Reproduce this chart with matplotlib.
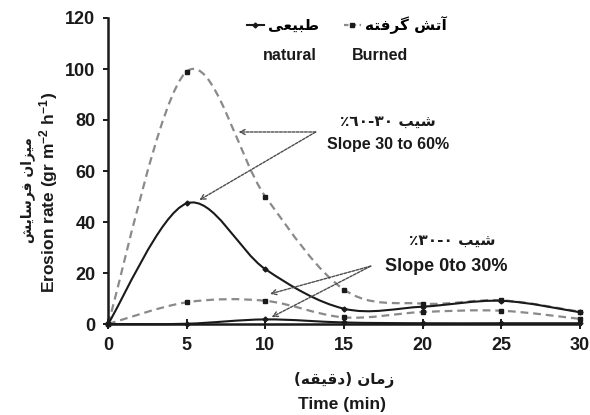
#!/usr/bin/env python3
"""Erosion rate vs. time, burned vs. natural plots on two slope classes."""
import matplotlib

matplotlib.use("Agg")
import matplotlib.pyplot as plt
from matplotlib.lines import Line2D
from matplotlib.path import Path
from matplotlib.patches import PathPatch

# data
time_min = [0, 5, 10, 15, 20, 25, 30]
burned_steep = [0, 99.0, 50.0, 13.5, 8.0, 9.3, 4.8]
natural_steep = [0, 47.3, 21.5, 6.0, 6.8, 9.1, 4.6]
burned_gentle = [0, 8.5, 9.1, 2.6, 4.7, 5.2, 2.0]
natural_gentle = [0, 0.1, 1.8, 0.6, 0.3, 0.3, 0.3]

x_ticks = [0, 5, 10, 15, 20, 25, 30]
y_ticks = [0, 20, 40, 60, 80, 100, 120]

W, H = 590, 415
COL = {
    "ink": "#1a1a1a",
    "burned": "#8a8a8a",
    "arrow": "#4d4d4d",
}

# minimal Persian shaping (matplotlib has no bidi / joining support)
FORMS = {
    "ا": ("\uFE8D", "\uFE8E", None, None),
    "آ": ("\uFE81", "\uFE82", None, None),
    "ب": ("\uFE8F", "\uFE90", "\uFE91", "\uFE92"),
    "ت": ("\uFE95", "\uFE96", "\uFE97", "\uFE98"),
    "د": ("\uFEA9", "\uFEAA", None, None),
    "ر": ("\uFEAD", "\uFEAE", None, None),
    "ز": ("\uFEAF", "\uFEB0", None, None),
    "س": ("\uFEB1", "\uFEB2", "\uFEB3", "\uFEB4"),
    "ش": ("\uFEB5", "\uFEB6", "\uFEB7", "\uFEB8"),
    "ط": ("\uFEC1", "\uFEC2", "\uFEC3", "\uFEC4"),
    "ع": ("\uFEC9", "\uFECA", "\uFECB", "\uFECC"),
    "ف": ("\uFED1", "\uFED2", "\uFED3", "\uFED4"),
    "ق": ("\uFED5", "\uFED6", "\uFED7", "\uFED8"),
    "م": ("\uFEE1", "\uFEE2", "\uFEE3", "\uFEE4"),
    "ن": ("\uFEE5", "\uFEE6", "\uFEE7", "\uFEE8"),
    "ه": ("\uFEE9", "\uFEEA", "\uFEEB", "\uFEEC"),
    "ی": ("\uFEEF", "\uFEF0", "\uFEF3", "\uFEF4"),
    "گ": ("\uFB92", "\uFB93", "\uFB94", "\uFB95"),
}
MIRROR = {"(": ")", ")": "("}


def fa(s):
    out = []
    for i, c in enumerate(s):
        if c not in FORMS:
            out.append(c)
            continue
        iso, fin, ini, med = FORMS[c]
        prev = s[i - 1] if i > 0 else ""
        nxt = s[i + 1] if i + 1 < len(s) else ""
        jp = prev in FORMS and FORMS[prev][2] is not None
        jn = nxt in FORMS and ini is not None
        out.append(med if jp and jn else fin if jp else ini if jn else iso)
    return "".join(MIRROR.get(c, c) for c in reversed(out))


def fx(px):
    return px / W


def fy(py):
    return 1 - py / H


def smooth(ax, xs, ys, **kw):
    # Excel-style smoothed line: cubic Bezier through every point
    pts = list(zip(xs, ys))
    verts = [pts[0]]
    codes = [Path.MOVETO]
    n = len(pts)
    for i in range(n - 1):
        p0 = pts[i - 1] if i > 0 else pts[i]
        p1, p2 = pts[i], pts[i + 1]
        p3 = pts[i + 2] if i + 2 < n else pts[i + 1]
        c1 = (p1[0] + (p2[0] - p0[0]) / 6, p1[1] + (p2[1] - p0[1]) / 6)
        c2 = (p2[0] - (p3[0] - p1[0]) / 6, p2[1] - (p3[1] - p1[1]) / 6)
        verts += [c1, c2, p2]
        codes += [Path.CURVE4] * 3
    ax.add_patch(PathPatch(Path(verts, codes), fill=False, clip_on=False, **kw))


plt.rcParams.update(
    {
        "font.family": ["Liberation Sans", "DejaVu Sans"],
        "font.weight": "bold",
        "mathtext.fontset": "custom",
        "mathtext.rm": "Liberation Sans:bold",
        "mathtext.bf": "Liberation Sans:bold",
        "mathtext.default": "rm",
    }
)
FA = ["DejaVu Sans"]

fig = plt.figure(figsize=(W / 100, H / 100), dpi=100)
ax = fig.add_axes([fx(108), fy(324), fx(580) - fx(108), fy(18) - fy(324)])
ax.set_xlim(0, 30)
ax.set_ylim(0, 120)

burned_kw = dict(edgecolor=COL["burned"], lw=1.6, linestyle=(0, (3.5, 2.2)))
natural_kw = dict(edgecolor=COL["ink"], lw=1.5)
smooth(ax, time_min, burned_steep, **burned_kw)
smooth(ax, time_min, burned_gentle, **burned_kw)
smooth(ax, time_min, natural_steep, **natural_kw)
smooth(ax, time_min, natural_gentle, **natural_kw)
for ys in (burned_steep, burned_gentle):
    ax.plot(time_min, ys, ls="none", marker="s", ms=3, color=COL["ink"], clip_on=False, zorder=3)
for ys in (natural_steep, natural_gentle):
    ax.plot(time_min, ys, ls="none", marker="D", ms=2.5, color=COL["ink"], clip_on=False, zorder=3)

for s in ("top", "right"):
    ax.spines[s].set_visible(False)
for s in ("left", "bottom"):
    ax.spines[s].set_color(COL["ink"])
    ax.spines[s].set_linewidth(1.8)
ax.set_xticks(x_ticks)
ax.set_yticks(y_ticks)
ax.tick_params(axis="x", direction="inout", length=7, width=1.4, pad=5.5, labelsize=13, colors=COL["ink"])
ax.tick_params(axis="y", direction="out", length=3.5, width=1.4, pad=5.5, labelsize=13, colors=COL["ink"])

# legend: Persian labels with line handles, English names below
handles = [
    Line2D([], [], color=COL["ink"], lw=1.5, marker="D", ms=2.5),
    Line2D([], [], color=COL["burned"], lw=1.6, ls=(0, (2, 1.5)), marker="s", ms=3,
           mfc=COL["ink"], mec=COL["ink"]),
]
fig.legend(
    handles,
    [fa("طبیعی"), fa("آتش گرفته")],
    loc="center",
    bbox_to_anchor=(fx(347), fy(25)),
    ncol=2,
    frameon=False,
    handlelength=1.1,
    handletextpad=0.3,
    columnspacing=1.6,
    prop={"family": FA, "weight": "bold", "size": 11},
)
fig.text(fx(290), fy(55), "natural", ha="center", va="center", fontsize=11.5, color=COL["ink"])
fig.text(fx(380), fy(55), "Burned", ha="center", va="center", fontsize=11.5, color=COL["ink"])

# slope annotations
fig.text(fx(388), fy(121), "٪٦٠-٣٠ " + fa("شیب"), ha="center", va="center",
         family=FA, fontsize=11, color=COL["ink"])
fig.text(fx(388), fy(145), "Slope 30 to 60%", ha="center", va="center", fontsize=11.5, color=COL["ink"])
fig.text(fx(452), fy(240), "٪٣٠-٠ " + fa("شیب"), ha="center", va="center",
         family=FA, fontsize=11, color=COL["ink"])
fig.text(fx(446), fy(266), "Slope 0to 30%", ha="center", va="center", fontsize=13, color=COL["ink"])

arrow_kw = dict(arrowstyle="->", color=COL["arrow"], lw=1.0, linestyle=(0, (2, 1)),
                mutation_scale=9, shrinkA=0, shrinkB=0)
for tip, start in [
    ((8.3, 75.3), (13.2, 75.3)),
    ((5.8, 48.6), (13.2, 75.3)),
    ((10.3, 11.8), (16.7, 22.7)),
    ((10.4, 2.7), (16.7, 22.7)),
]:
    ax.annotate("", xy=tip, xytext=start, arrowprops=arrow_kw)

# axis titles (Persian above / beside English)
fig.text(fx(344), fy(380), fa("زمان (دقیقه)"), ha="center", va="center",
         family=FA, fontsize=11, color=COL["ink"])
fig.text(fx(342), fy(404), "Time (min)", ha="center", va="center", fontsize=12.5, color=COL["ink"])
fig.text(fx(28), fy(190), fa("میزان فرسایش"), ha="center", va="center", rotation=90,
         family=FA, fontsize=10, color=COL["ink"])
fig.text(fx(49), fy(192), r"Erosion rate (gr m$^{-2}$ h$^{-1}$)", ha="center", va="center",
         rotation=90, fontsize=12.5, color=COL["ink"])

fig.savefig("out.png", dpi=100)
